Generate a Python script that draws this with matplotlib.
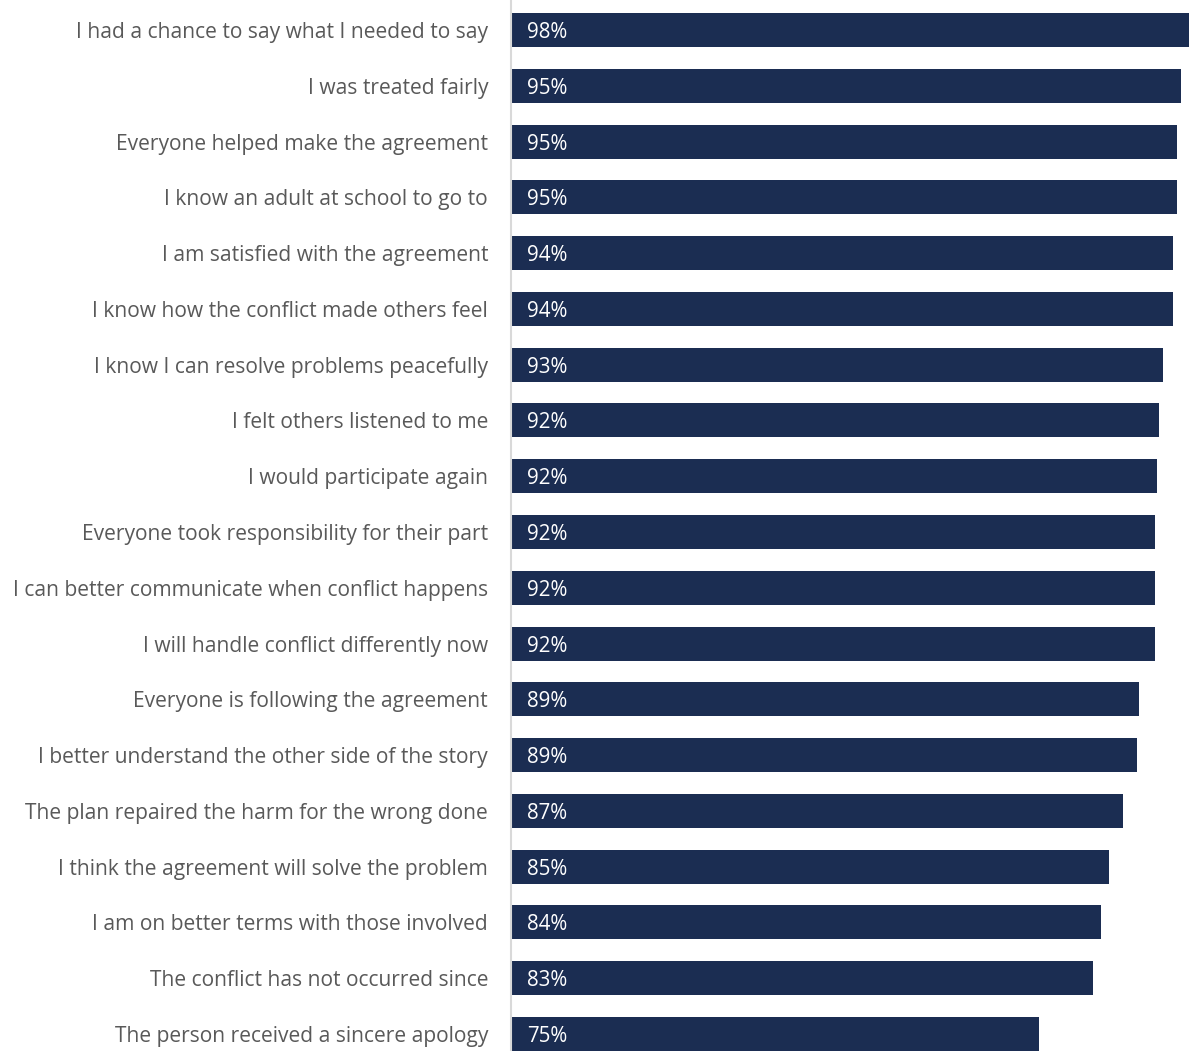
import matplotlib
matplotlib.use("Agg")
import matplotlib.pyplot as plt

categories = [
    "I had a chance to say what I needed to say",
    "I was treated fairly",
    "Everyone helped make the agreement",
    "I know an adult at school to go to",
    "I am satisfied with the agreement",
    "I know how the conflict made others feel",
    "I know I can resolve problems peacefully",
    "I felt others listened to me",
    "I would participate again",
    "Everyone took responsibility for their part",
    "I can better communicate when conflict happens",
    "I will handle conflict differently now",
    "Everyone is following the agreement",
    "I better understand the other side of the story",
    "The plan repaired the harm for the wrong done",
    "I think the agreement will solve the problem",
    "I am on better terms with those involved",
    "The conflict has not occurred since",
    "The person received a sincere apology",
]
values = [97.6, 95.4, 94.9, 94.9, 94.3, 94.3, 92.9, 92.3, 92.0, 91.7, 91.7, 91.7,
          89.5, 89.2, 87.2, 85.2, 84.0, 82.9, 75.2]
value_labels = ["98%", "95%", "95%", "95%", "94%", "94%", "93%", "92%", "92%", "92%",
                "92%", "92%", "89%", "89%", "87%", "85%", "84%", "83%", "75%"]

plt.rcParams['font.family'] = ['Open Sans', 'DejaVu Sans']

W, H = 1189, 1051
fig = plt.figure(figsize=(W / 100, H / 100), dpi=100)
ax_left = 511 / W
ax = fig.add_axes([ax_left, 0, 1 - ax_left, 1])

pitch = 55.78
y = list(range(len(categories)))
ax.barh(y, values, height=34 / pitch, color="#1B2D52", left=0)
ax.set_xlim(0, 678 / 7.02)
ax.set_ylim(18 + 17 / pitch, -30 / pitch)

for yi, lab in zip(y, value_labels):
    ax.text(16 / 7.02, yi, lab, color="white", fontsize=14.8, va="center_baseline", ha="left")

ax.set_yticks(y)
ax.set_yticklabels(categories, fontsize=15.12, color="#595959")
for t in ax.get_yticklabels():
    t.set_verticalalignment("center_baseline")
ax.tick_params(axis="y", length=0, pad=16.5)
ax.set_xticks([])
for s in ["top", "right", "bottom"]:
    ax.spines[s].set_visible(False)
ax.spines["left"].set_color("#D9D9D9")
ax.spines["left"].set_linewidth(1.5)

fig.savefig("out.png", dpi=100)
